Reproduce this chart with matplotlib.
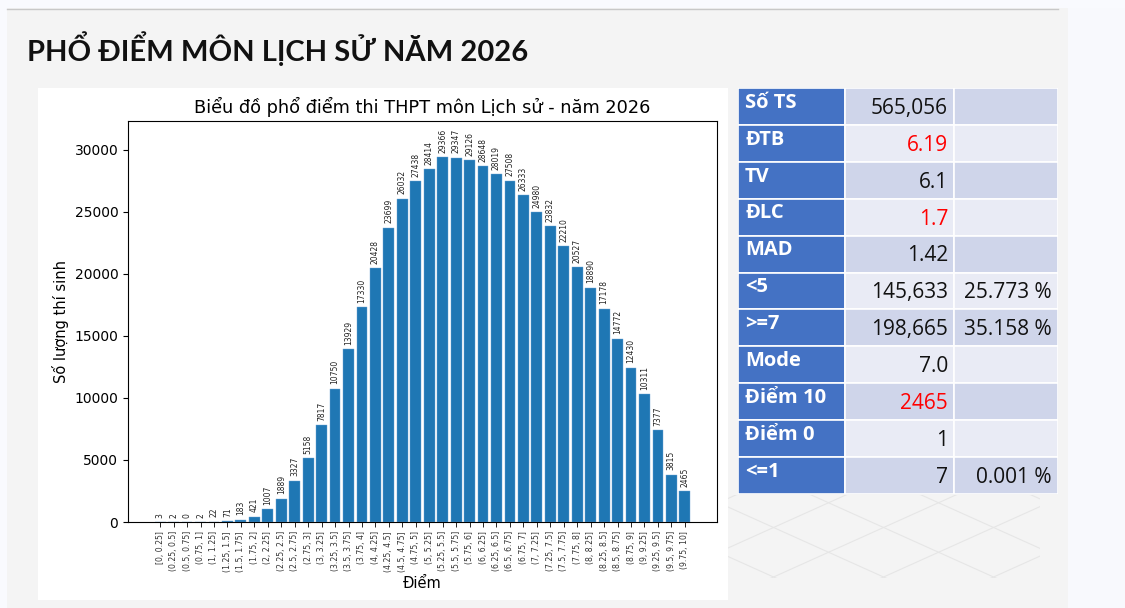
import numpy as np
import matplotlib
matplotlib.use("Agg")
import matplotlib.pyplot as plt
from matplotlib.patches import Rectangle

# --- data ---
bins = ["[0, 0.25]", "(0.25, 0.5]", "(0.5, 0.75]", "(0.75, 1]", "(1, 1.25]",
        "(1.25, 1.5]", "(1.5, 1.75]", "(1.75, 2]", "(2, 2.25]", "(2.25, 2.5]",
        "(2.5, 2.75]", "(2.75, 3]", "(3, 3.25]", "(3.25, 3.5]", "(3.5, 3.75]",
        "(3.75, 4]", "(4, 4.25]", "(4.25, 4.5]", "(4.5, 4.75]", "(4.75, 5]",
        "(5, 5.25]", "(5.25, 5.5]", "(5.5, 5.75]", "(5.75, 6]", "(6, 6.25]",
        "(6.25, 6.5]", "(6.5, 6.75]", "(6.75, 7]", "(7, 7.25]", "(7.25, 7.5]",
        "(7.5, 7.75]", "(7.75, 8]", "(8, 8.25]", "(8.25, 8.5]", "(8.5, 8.75]",
        "(8.75, 9]", "(9, 9.25]", "(9.25, 9.5]", "(9.5, 9.75]", "(9.75, 10]"]
counts = [3, 2, 0, 2, 22, 71, 183, 421, 1007, 1889,
          3327, 5158, 7817, 10750, 13929, 17330, 20428, 23699, 26032, 27438,
          28414, 29366, 29347, 29126, 28648, 28019, 27508, 26333, 24980, 23832,
          22210, 20527, 18890, 17178, 14772, 12430, 10311, 7377, 3815, 2465]

stat_labels = ["Số TS", "ĐTB", "TV", "ĐLC", "MAD", "<5", ">=7", "Mode",
               "Điểm 10", "Điểm 0", "<=1"]
stat_values = ["565,056", "6.19", "6.1", "1.7", "1.42", "145,633", "198,665",
               "7.0", "2465", "1", "7"]
stat_pcts = ["", "", "", "", "", "25.773 %", "35.158 %", "", "", "", "0.001 %"]
stat_red = ["ĐTB", "ĐLC", "Điểm 10"]

page_title = "PHỔ ĐIỂM MÔN LỊCH SỬ NĂM 2026"
chart_title = "Biểu đồ phổ điểm thi THPT môn Lịch sử - năm 2026"

W, H = 1125, 608
fig = plt.figure(figsize=(W / 100, H / 100), dpi=100)
fig.patch.set_facecolor("#f4f4f4")


def px_rect(x0, y0, x1, y1, **kw):
    # rectangle in pixel coords, y measured from top
    fig.patches.append(Rectangle((x0 / W, 1 - y1 / H), (x1 - x0) / W, (y1 - y0) / H,
                                 transform=fig.transFigure, figure=fig, zorder=-5, **kw))


# page frame
px_rect(0, 0, W, 8, facecolor="#f9fafe", edgecolor="none")
px_rect(0, 0, 7, H, facecolor="#f9fafe", edgecolor="none")
px_rect(1068, 8, W, H, facecolor="#f8f9fd", edgecolor="none")
fig.add_artist(plt.Line2D([7 / W, 1058 / W], [1 - 8.5 / H] * 2, color="#c8c8c8", lw=1))

fig.text(27 / W, 1 - 49 / H, page_title, fontsize=21, fontweight="bold",
         family="Lato", va="center", ha="left", color="#111111")

# decorative lattice behind the table
dax = fig.add_axes([728 / W, 1 - 578 / H, 312 / W, 83 / H])
dax.set_xlim(0, 312)
dax.set_ylim(83, 0)
dax.axis("off")
for c in np.arange(-500, 600, 110):
    xs = np.array([0, 312])
    dax.plot(xs, c * 0.45 + xs * 0.45 - 60, color="#e6e6e6", lw=0.8)
    dax.plot(xs, c * 0.45 - xs * 0.45 + 80, color="#e6e6e6", lw=0.8)

# chart panel
px_rect(38, 88, 728, 600, facecolor="white", edgecolor="none")

ax = fig.add_axes([128 / W, 1 - 522 / H, 589 / W, 401 / H])
x = np.arange(len(bins))
bars = ax.bar(x, counts, color="#1f77b4", edgecolor="#6fa6d6", linewidth=0.3)
ax.set_ylim(0, max(counts) * 1.1)
ax.set_xticks(x)
ax.set_xticklabels(bins, rotation=90, fontsize=5.6, color="#333333")
ax.tick_params(axis="y", labelsize=10)
ax.tick_params(axis="x", length=3.5, width=0.6, pad=3)
for b, v in zip(bars, counts):
    ax.text(b.get_x() + b.get_width() / 2, v + 350, str(v), rotation=90,
            ha="center", va="bottom", fontsize=5.5, color="#222222")
ax.set_title(chart_title, fontsize=12.8, pad=6)
ax.set_xlabel("Điểm", fontsize=10.5, labelpad=3)
ax.set_ylabel("Số lượng thí sinh", fontsize=10.5)
for s in ax.spines.values():
    s.set_linewidth(0.8)

# statistics table
tx0, ty0, tx1, ty1 = 738, 88, 1058, 494
tax = fig.add_axes([tx0 / W, 1 - ty1 / H, (tx1 - tx0) / W, (ty1 - ty0) / H])
tax.set_xlim(0, tx1 - tx0)
tax.set_ylim(ty1 - ty0, 0)
tax.axis("off")
col_edges = [0, 107, 216, 320]
row_h = (ty1 - ty0) / len(stat_labels)
tfont = "Open Sans"
for i, (lab, val, pct) in enumerate(zip(stat_labels, stat_values, stat_pcts)):
    y0 = i * row_h
    fill = "#cfd5ea" if i % 2 == 0 else "#e9ebf5"
    tax.add_patch(Rectangle((col_edges[0], y0), col_edges[1] - col_edges[0], row_h,
                            facecolor="#4472c4", edgecolor="white", lw=1.2))
    for j in (1, 2):
        tax.add_patch(Rectangle((col_edges[j], y0), col_edges[j + 1] - col_edges[j], row_h,
                                facecolor=fill, edgecolor="white", lw=1.2))
    tax.text(7, y0 + row_h * 0.40, lab, ha="left", va="center", fontsize=14.5,
             fontweight="bold", color="white", family=tfont)
    tax.text(col_edges[2] - 6, y0 + row_h * 0.55, val, ha="right", va="center",
             fontsize=15, color="red" if lab in stat_red else "#111111", family=tfont)
    if pct:
        tax.text(col_edges[3] - 6, y0 + row_h * 0.55, pct, ha="right", va="center",
                 fontsize=15, color="#111111", family=tfont)

fig.savefig("out.png", dpi=100, facecolor=fig.get_facecolor())
